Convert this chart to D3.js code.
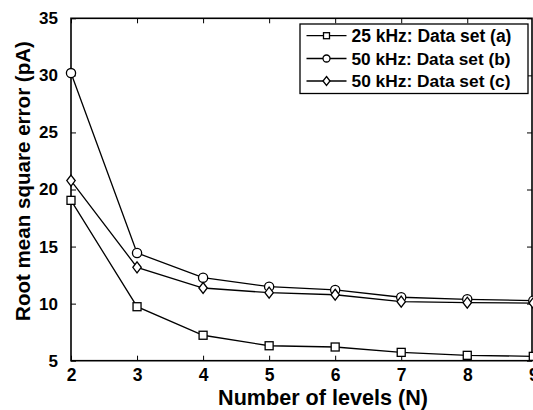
<!DOCTYPE html>
<html><head><meta charset="utf-8">
<script src="https://cdn.jsdelivr.net/npm/d3@7"></script>
<style>body{margin:0;background:#fff}svg{display:block}text{font-family:"Liberation Sans",Arial,sans-serif;font-weight:bold}</style>
</head><body>
<script>
const levels = [2,3,4,5,6,7,8,9];
const setA = [19.05,9.73,7.23,6.31,6.2,5.73,5.47,5.38];
const setB = [30.2,14.44,12.27,11.49,11.2,10.56,10.38,10.26];
const setC = [20.78,13.18,11.37,10.96,10.78,10.17,10.08,10.05];
const seriesNames = ["25 kHz: Data set (a)","50 kHz: Data set (b)","50 kHz: Data set (c)"];
const markers = ["square","circle","diamond"];
const xTicks = [2,3,4,5,6,7,8,9];
const yTicks = [5,10,15,20,25,30,35];

const W=533,H=410;
const m={l:71,r:532,t:18.3,b:360.7};
const svg=d3.select("body").append("svg").attr("width",W).attr("height",H);
const x=d3.scaleLinear().domain([2,9]).range([m.l,m.r+1.3]);
const y=d3.scaleLinear().domain([5,35]).range([m.b,m.t]);

function fit(t,target){
  const len=t.node().getComputedTextLength();
  const fs=parseFloat(t.attr("font-size"));
  t.attr("font-size",(fs*target/len).toFixed(2));
}

const g=svg.append("g");
const tl=5;
g.append("g").attr("transform",`translate(0,${m.b})`).call(d3.axisBottom(x).tickValues(xTicks).tickSize(-tl).tickPadding(8).tickFormat(d3.format("d")))
 .call(a=>{a.select(".domain").remove();a.selectAll("text").attr("font-size",17.5).attr("fill","#000");});
g.append("g").attr("transform",`translate(${m.l},0)`).call(d3.axisLeft(y).tickValues(yTicks).tickSize(-tl).tickPadding(13))
 .call(a=>{a.select(".domain").remove();a.selectAll("text").attr("font-size",17).attr("fill","#000");});
g.append("g").attr("transform",`translate(0,${m.t})`).call(d3.axisTop(x).tickValues(xTicks).tickSize(-tl).tickFormat(""))
 .call(a=>a.select(".domain").remove());
g.append("g").attr("transform",`translate(${m.r},0)`).call(d3.axisRight(y).tickValues(yTicks).tickSize(-tl).tickFormat(""))
 .call(a=>a.select(".domain").remove());
g.selectAll(".tick line").attr("stroke","#000").attr("stroke-width",1);
g.append("rect").attr("x",m.l).attr("y",m.t).attr("width",m.r-m.l).attr("height",m.b-m.t)
 .attr("fill","none").attr("stroke","#000").attr("stroke-width",1.6);

function drawMarker(sel,type,cx,cy){
  if(type==="square") sel.append("rect").attr("x",cx-4).attr("y",cy-4).attr("width",8).attr("height",8);
  else if(type==="circle") sel.append("circle").attr("cx",cx).attr("cy",cy).attr("r",4.6);
  else sel.append("path").attr("d",`M${cx},${cy-5.5}L${cx+4.2},${cy}L${cx},${cy+5.5}L${cx-4.2},${cy}Z`);
}
const data=[setA,setB,setC];
const line=d3.line().x((d,i)=>x(levels[i])).y(d=>y(d));
data.forEach((s,k)=>{
  g.append("path").datum(s).attr("d",line).attr("fill","none").attr("stroke","#000").attr("stroke-width",1.3);
  const mg=g.append("g").attr("fill","#fff").attr("stroke","#000").attr("stroke-width",1.3);
  s.forEach((v,i)=>drawMarker(mg,markers[k],x(levels[i]),y(v)));
});

// legend
const lg=svg.append("g");
lg.append("rect").attr("x",300).attr("y",24).attr("width",228).attr("height",69.5).attr("fill","#fff").attr("stroke","#000").attr("stroke-width",1.3);
const rows=[35.7,58.5,81];
seriesNames.forEach((n,k)=>{
  lg.append("line").attr("x1",306.5).attr("x2",346.5).attr("y1",rows[k]).attr("y2",rows[k]).attr("stroke","#000").attr("stroke-width",1.3);
  const mg=lg.append("g").attr("fill","#fff").attr("stroke","#000").attr("stroke-width",1.3);
  if(markers[k]==="square") mg.append("rect").attr("x",323.5).attr("y",rows[k]-3).attr("width",6).attr("height",6);
  else if(markers[k]==="circle") mg.append("circle").attr("cx",326.5).attr("cy",rows[k]).attr("r",3.5);
  else mg.append("path").attr("d",`M326.5,${rows[k]-4.5}L330,${rows[k]}L326.5,${rows[k]+4.5}L323,${rows[k]}Z`);
  const t=lg.append("text").attr("x",351.5).attr("y",rows[k]+6).attr("font-size",17).text(n);
  fit(t, k===0?160:159);
});

const xt=svg.append("text").attr("x",323).attr("y",405).attr("text-anchor","middle").attr("font-size",21).text("Number of levels (N)");
fit(xt,210);
const yt=svg.append("text").attr("transform",`translate(29.5,181) rotate(-90)`).attr("text-anchor","middle").attr("font-size",22).text("Root mean square error (pA)");
fit(yt,280);
</script>
</body></html>
